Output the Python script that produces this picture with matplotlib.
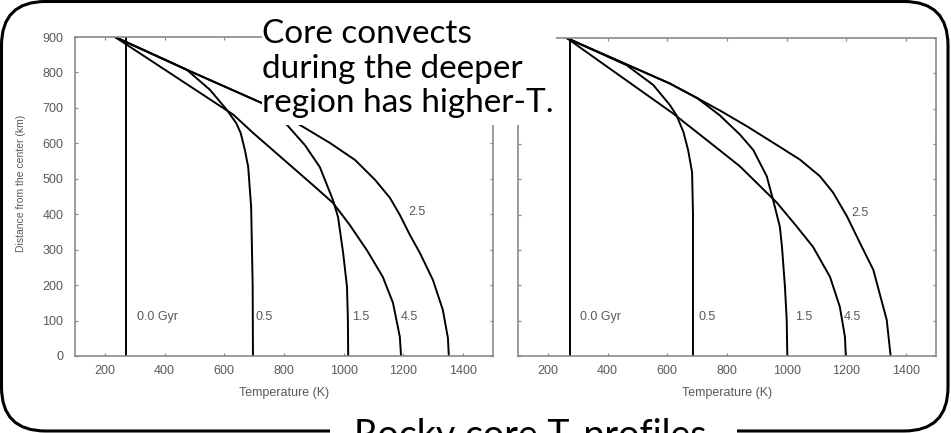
import numpy as np
import matplotlib
matplotlib.use("Agg")
import matplotlib.pyplot as plt
from matplotlib.patches import FancyBboxPatch, Rectangle

# ---- data (T in K, distance in km) ----
ages = ["0.0 Gyr", "0.5", "1.5", "2.5", "4.5"]

# left panel
L_T00 = [272, 272]
L_D00 = [0, 900]
L_T05 = [234, 360, 474, 552, 608, 640, 655, 669, 680, 690, 695, 696]
L_D05 = [900, 852, 808, 751, 695, 657, 629, 581, 534, 420, 200, 0]
L_T15 = [234, 473, 725, 810, 870, 920, 964, 981, 998, 1011, 1014, 1015]
L_D15 = [900, 808, 714, 652, 595, 533, 440, 392, 291, 195, 102, 0]
L_T25 = [234, 473, 725, 853, 954, 1038, 1105, 1155, 1188, 1222, 1255, 1299, 1332, 1349, 1352]
L_D25 = [900, 808, 714, 652, 601, 553, 497, 446, 398, 341, 291, 214, 130, 51, 0]
L_T45 = [234, 630, 697, 900, 964, 1020, 1078, 1131, 1165, 1188, 1192]
L_D45 = [900, 681, 629, 480, 432, 370, 298, 223, 150, 54, 0]

# right panel
R_T00 = [274, 274]
R_D00 = [0, 900]
R_T05 = [263, 464, 553, 609, 631, 654, 670, 683, 686, 686]
R_D05 = [900, 823, 767, 710, 681, 634, 582, 520, 406, 0]
R_T15 = [263, 609, 700, 776, 843, 888, 933, 954, 977, 984, 994, 1000, 1002]
R_D15 = [900, 771, 730, 681, 627, 583, 509, 443, 366, 310, 197, 102, 0]
R_T25 = [263, 609, 700, 780, 867, 954, 1044, 1111, 1155, 1202, 1240, 1290, 1335, 1348]
R_D25 = [900, 771, 730, 693, 650, 604, 556, 509, 463, 395, 329, 244, 102, 0]
R_T45 = [263, 620, 776, 843, 967, 1034, 1088, 1145, 1178, 1195, 1198]
R_D45 = [900, 686, 582, 537, 434, 366, 309, 224, 139, 54, 0]

# curve label anchor points (left edge of text)
lab_T = [308, 703, 1028, 1215, 1192]
lab_D = [110, 110, 110, 406, 110]

xticks = [200, 400, 600, 800, 1000, 1200, 1400]
yticks = [0, 100, 200, 300, 400, 500, 600, 700, 800, 900]

note_lines = ["Core convects", "during the deeper", "region has higher-T."]
title = "Rocky core T-profiles"

W, H = 951, 433
fig = plt.figure(figsize=(W / 100, H / 100), dpi=100)
fig.patch.set_facecolor("white")

GRAY = "#8a8a8a"
TXT = "#5a5a5a"


def panel(rect, curves, show_y):
    ax = fig.add_axes(rect)
    for T, D in curves:
        ax.plot(T, D, color="black", lw=1.4, solid_joinstyle="round")
    for name, t, d in zip(ages, lab_T, lab_D):
        ax.text(t, d, name, fontsize=9, color=TXT, family="Liberation Sans",
                ha="left", va="center")
    ax.set_xlim(100, 1500)
    ax.set_ylim(0, 900)
    ax.set_xticks(xticks)
    ax.set_yticks(yticks)
    for s in ax.spines.values():
        s.set_color(GRAY)
        s.set_linewidth(1.2)
    ax.tick_params(direction="in", length=2.5, width=0.9, color=GRAY,
                   top=True, right=True, labelcolor=TXT, labelsize=9)
    ax.tick_params(axis="x", pad=6.5)
    ax.tick_params(axis="y", pad=8.5)
    for lab in ax.get_xticklabels() + ax.get_yticklabels():
        lab.set_family("Liberation Sans")
    ax.set_xlabel("Temperature (K)", fontsize=9, color=TXT,
                  family="Liberation Sans", labelpad=7)
    if show_y:
        ax.set_ylabel("Distance from the center (km)", fontsize=7.5, color=TXT,
                      family="Liberation Sans")
        ax.yaxis.set_label_coords(-0.117, 0.54)
    else:
        ax.set_yticklabels([])
    return ax


left_curves = [(L_T00, L_D00), (L_T05, L_D05), (L_T15, L_D15),
               (L_T25, L_D25), (L_T45, L_D45)]
right_curves = [(R_T00, R_D00), (R_T05, R_D05), (R_T15, R_D15),
                (R_T25, R_D25), (R_T45, R_D45)]

panel([75 / W, 77 / H, 418 / W, 319 / H], left_curves, True)
panel([518 / W, 77 / H, 418 / W, 318 / H], right_curves, False)

# slide overlay: rounded frame, annotation, title (pixel coordinates)
ov = fig.add_axes([0, 0, 1, 1], zorder=10)
ov.set_xlim(0, W)
ov.set_ylim(H, 0)
ov.axis("off")
ov.patch.set_alpha(0)

ov.add_patch(Rectangle((262, 3), 294, 122, fc="white", ec="none"))
for line, base in zip(note_lines, [43, 78, 112]):
    ov.text(262, base, line, fontsize=24, family="Lato", color="black",
            ha="left", va="baseline")

ov.add_patch(FancyBboxPatch((1.5, 1.5), 946.5, 429.5,
                            boxstyle="round,pad=0,rounding_size=44",
                            fc="none", ec="black", lw=2.2))
ov.add_patch(Rectangle((330, 405), 407, 40, fc="white", ec="none", zorder=5))
ov.text(530, 447, title, fontsize=27, family="Lato",
        color="black", ha="center", va="baseline", zorder=6)

fig.savefig("out.png", dpi=100)
